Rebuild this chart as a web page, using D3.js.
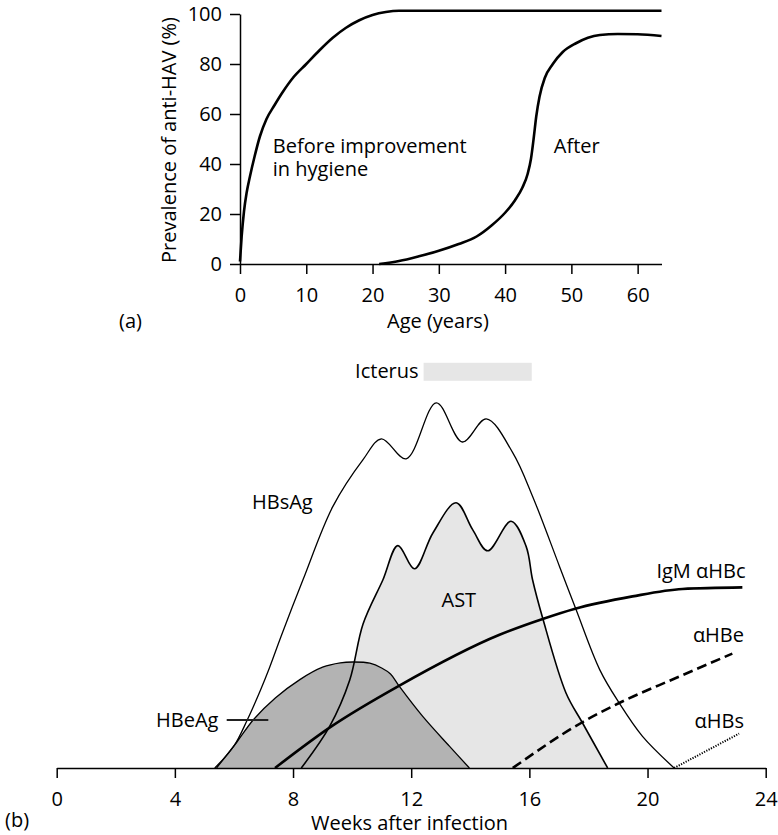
<!DOCTYPE html>
<html>
<head>
<meta charset="utf-8">
<script src="https://cdn.jsdelivr.net/npm/d3@7"></script>
<style>
  body { margin: 0; background: #fff; }
  svg { display: block; font-family: "Open Sans", "Noto Sans", sans-serif; }
</style>
</head>
<body>
<div id="chart"></div>
<script>
// (a) prevalence of anti-HAV by age
const beforeAge  = [0, 0.25, 0.6, 1, 1.5, 2.2, 3, 4, 5.2, 6.5, 8, 10, 12, 14, 16, 18, 20, 22, 24, 63.6];
const beforePrev = [1, 11, 21, 28.5, 35, 43, 51, 58, 63.5, 69, 74.5, 80, 85.5, 90.5, 94.5, 97.5, 99.6, 100.8, 101.3, 101.3];
const afterAge   = [21, 24, 27, 30, 33, 35.7, 38, 40, 41.5, 42.6, 43.4, 43.9, 44.3, 44.7, 45.2, 46, 47.2, 48.7, 50.7, 52.5, 54.3, 57, 60, 63.6];
const afterPrev  = [0, 1.2, 3.1, 5.3, 8, 11, 15.5, 20.5, 25.5, 30.5, 36, 42, 50, 59, 67, 74.5, 80, 84.8, 88.3, 90.5, 91.6, 92, 91.9, 91.2];
const ageTicks   = [0, 10, 20, 30, 40, 50, 60];
const prevTicks  = [0, 20, 40, 60, 80, 100];

// (b) serology after hepatitis B infection (arbitrary units)
const hbsagWeeks  = [5.35, 6.0, 6.45, 6.9, 7.2, 7.6, 8.34, 9.35, 10.37, 10.99, 11.83, 12.85, 13.73, 14.54, 15.44, 16.11, 17.02, 17.58, 18.38, 19.04, 19.83, 20.9];
const hbsagLevel  = [0, 5.5, 12, 19.5, 25, 33, 47.1, 65.4, 77.1, 82.3, 77.3, 91.3, 81.5, 87.3, 78.8, 67.9, 50.4, 39.6, 24.6, 16.25, 7.9, 0];
const astWeeks    = [8.28, 9.24, 9.92, 10.37, 11.04, 11.55, 12.11, 12.73, 13.52, 14.08, 14.59, 15.38, 15.89, 16.11, 16.45, 17.24, 17.8, 18.65];
const astLevel    = [0, 10.4, 22, 36, 47, 55.6, 49.8, 58.7, 66.3, 59.6, 54.3, 61.7, 55.4, 47, 37.5, 18.75, 11.25, 0];
const hbeagWeeks  = [5.41, 6.1, 6.65, 7.4, 8.23, 9.0, 9.6, 10.05, 10.6, 11.0, 11.3, 11.6, 12.39, 13.3, 13.97];
const hbeagLevel  = [0, 6.5, 12, 17.5, 22.1, 25.2, 26.3, 26.5, 26.2, 25, 23.5, 20.4, 12.9, 5.4, 0];
const igmWeeks    = [7.39, 9.3, 11.6, 14.99, 16.45, 17.52, 19.49, 21.18, 23.21];
const igmLevel    = [0, 10.4, 20.6, 33.3, 37.25, 39.75, 42.9, 44.75, 45.15];
const antiHBeWeeks = [15.44, 17.75, 19.04, 20.96, 22.87];
const antiHBeLevel = [0, 11.25, 16.25, 22.5, 28.6];
const antiHBsWeeks = [20.9, 23.1];
const antiHBsLevel = [0, 8.6];
const icterusWeeks = [12.42, 16.08];
const weekTicks    = [0, 4, 8, 12, 16, 20, 24];

const zip = (xs, ys) => xs.map((x, i) => [x, ys[i]]);

const svg = d3.select('#chart')
    .append('svg')
    .attr('width', 778)
    .attr('height', 835);

const FONT = 20;

function styleAxis(g) {
    g.attr('font-size', null).attr('font-family', null);
    g.selectAll('path.domain').attr('stroke', '#000').attr('stroke-width', 1.5);
    g.selectAll('.tick line').attr('stroke', '#000').attr('stroke-width', 1.5);
    g.selectAll('.tick text').attr('fill', '#000').style('font-size', FONT + 'px');
}

// ---------- panel (a) ----------
const xA = d3.scaleLinear().domain([0, 63.6]).range([240, 661.5]);
const yA = d3.scaleLinear().domain([0, 100]).range([264, 14]);

svg.append('g')
    .attr('transform', `translate(0, ${yA(0)})`)
    .call(d3.axisBottom(xA).tickValues(ageTicks).tickSize(10).tickSizeOuter(0).tickPadding(14))
    .call(styleAxis);

svg.append('g')
    .attr('transform', `translate(${xA(0)}, 0)`)
    .call(d3.axisLeft(yA).tickValues(prevTicks).tickSize(10).tickSizeOuter(0).tickPadding(8))
    .call(styleAxis);

const lineA = d3.line()
    .x(d => xA(d[0]))
    .y(d => yA(d[1]))
    .curve(d3.curveMonotoneX);

svg.append('path')
    .datum(zip(beforeAge, beforePrev))
    .attr('d', lineA)
    .attr('fill', 'none')
    .attr('stroke', '#000')
    .attr('stroke-width', 2.6);

svg.append('path')
    .datum(zip(afterAge, afterPrev))
    .attr('d', lineA)
    .attr('fill', 'none')
    .attr('stroke', '#000')
    .attr('stroke-width', 2.6);

svg.append('text')
    .attr('x', xA(4.95)).attr('y', yA(44.4))
    .style('font-size', FONT + 'px')
    .text('Before improvement');
svg.append('text')
    .attr('x', xA(4.95)).attr('y', yA(35.2))
    .style('font-size', FONT + 'px')
    .text('in hygiene');
svg.append('text')
    .attr('x', xA(47.35)).attr('y', yA(44.4))
    .style('font-size', FONT + 'px')
    .text('After');

svg.append('text')
    .attr('x', 387).attr('y', 328)
    .style('font-size', FONT + 'px')
    .text('Age (years)');

svg.append('text')
    .attr('x', -140).attr('y', 175.5)
    .attr('transform', 'rotate(-90)')
    .attr('text-anchor', 'middle')
    .style('font-size', FONT + 'px')
    .text('Prevalence of anti-HAV (%)');

svg.append('text')
    .attr('x', 119).attr('y', 327.5)
    .style('font-size', FONT + 'px')
    .text('(a)');

// ---------- panel (b) ----------
const xB = d3.scaleLinear().domain([0, 24]).range([56.7, 765.7]);
const yB = d3.scaleLinear().domain([0, 100]).range([768, 368]);

svg.append('defs').append('clipPath')
    .attr('id', 'above-axis')
    .append('rect')
    .attr('x', xB(0)).attr('y', 340)
    .attr('width', xB(24) - xB(0)).attr('height', yB(0) - 340);

const plot = svg.append('g').attr('clip-path', 'url(#above-axis)');

const peakCurve = d3.curveCatmullRom.alpha(0.5);
const areaB = d3.area()
    .x(d => xB(d[0]))
    .y0(yB(0))
    .y1(d => yB(d[1]))
    .curve(peakCurve);
const lineB = d3.line()
    .x(d => xB(d[0]))
    .y(d => yB(d[1]))
    .curve(peakCurve);
const smoothB = d3.line()
    .x(d => xB(d[0]))
    .y(d => yB(d[1]))
    .curve(d3.curveMonotoneX);

const ast = zip(astWeeks, astLevel);
const hbeag = zip(hbeagWeeks, hbeagLevel);
const hbsag = zip(hbsagWeeks, hbsagLevel);

plot.append('path').datum(ast).attr('d', areaB).attr('fill', '#e6e6e6');
plot.append('path').datum(hbeag).attr('d', areaB).attr('fill', '#b3b3b3');

plot.append('path').datum(hbeag).attr('d', lineB)
    .attr('fill', 'none').attr('stroke', '#000').attr('stroke-width', 1.3);
plot.append('path').datum(ast).attr('d', lineB)
    .attr('fill', 'none').attr('stroke', '#000').attr('stroke-width', 1.6);
plot.append('path').datum(hbsag).attr('d', lineB)
    .attr('fill', 'none').attr('stroke', '#000').attr('stroke-width', 1.3);

plot.append('path').datum(zip(igmWeeks, igmLevel)).attr('d', smoothB)
    .attr('fill', 'none').attr('stroke', '#000').attr('stroke-width', 2.6);
plot.append('path').datum(zip(antiHBeWeeks, antiHBeLevel)).attr('d', smoothB)
    .attr('fill', 'none').attr('stroke', '#000').attr('stroke-width', 2.6)
    .attr('stroke-dasharray', '10,5');
plot.append('path').datum(zip(antiHBsWeeks, antiHBsLevel)).attr('d', smoothB)
    .attr('fill', 'none').attr('stroke', '#000').attr('stroke-width', 2)
    .attr('stroke-dasharray', '1.2,1.4');

svg.append('g')
    .attr('transform', `translate(0, ${yB(0)})`)
    .call(d3.axisBottom(xB).tickValues(weekTicks).tickSize(10).tickSizeOuter(0).tickPadding(14))
    .call(styleAxis);

// icterus bar
svg.append('rect')
    .attr('x', xB(icterusWeeks[0]))
    .attr('y', yB(101.3))
    .attr('width', xB(icterusWeeks[1]) - xB(icterusWeeks[0]))
    .attr('height', yB(96.8) - yB(101.3))
    .attr('fill', '#e6e6e6');
svg.append('text')
    .attr('x', xB(icterusWeeks[0]) - 5).attr('y', 378.3)
    .attr('text-anchor', 'end')
    .style('font-size', FONT + 'px')
    .text('Icterus');

// series labels
const labels = [
    { t: 'HBsAg', x: 252, y: 508.5, a: 'start' },
    { t: 'AST', x: 441.5, y: 606.5, a: 'start' },
    { t: 'HBeAg', x: 156, y: 726.5, a: 'start' },
    { t: 'IgM \u03b1HBc', x: 745.5, y: 578.3, a: 'end' },
    { t: '\u03b1HBe', x: 744, y: 641.7, a: 'end' },
    { t: '\u03b1HBs', x: 744, y: 728, a: 'end' }
];
svg.selectAll('text.series')
    .data(labels)
    .enter()
    .append('text')
    .attr('class', 'series')
    .attr('x', d => d.x)
    .attr('y', d => d.y)
    .attr('text-anchor', d => d.a)
    .style('font-size', FONT + 'px')
    .text(d => d.t);

// HBeAg leader
svg.append('line')
    .attr('x1', 226.7).attr('x2', 268.3)
    .attr('y1', 720).attr('y2', 720)
    .attr('stroke', '#222').attr('stroke-width', 2);

svg.append('text')
    .attr('x', 311).attr('y', 830)
    .style('font-size', FONT + 'px')
    .text('Weeks after infection');

svg.append('text')
    .attr('x', 5).attr('y', 826.5)
    .style('font-size', FONT + 'px')
    .text('(b)');
</script>
</body>
</html>
